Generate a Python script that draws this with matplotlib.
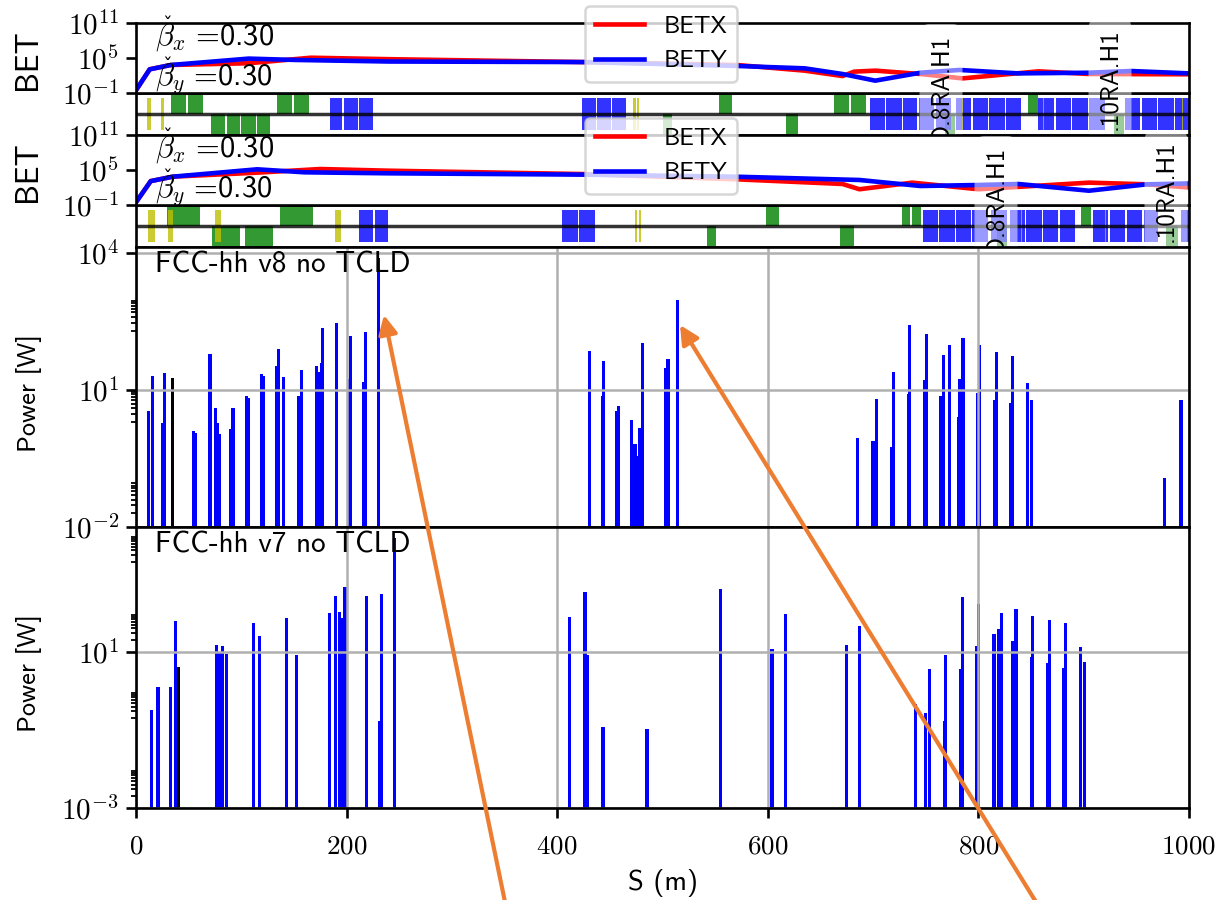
#!/usr/bin/env python3

import matplotlib
matplotlib.use("Agg")
import matplotlib.pyplot as plt
from matplotlib.patches import FancyArrowPatch
from matplotlib.ticker import NullFormatter
from matplotlib.transforms import Bbox

plt.rcParams['font.family'] = ['cmss10', 'DejaVu Sans']
plt.rcParams['mathtext.fontset'] = 'cm'
plt.rcParams['mathtext.default'] = 'rm'
plt.rcParams['axes.unicode_minus'] = False
FS = 18

# optics, top row (v8)
s_betx_v8 = [0, 13, 33, 107, 166, 240, 425, 571, 635, 671, 682, 702, 745, 785, 857, 905, 1000]
betx_v8 = [0.3, 1150, 6300, 12600, 112000, 63000, 20000, 6300, 680, 80, 460, 680, 180, 32, 520, 180, 160]
s_bety_v8 = [0, 13, 33, 107, 152, 240, 425, 571, 635, 671, 702, 745, 782, 838, 905, 945, 1000]
bety_v8 = [0.3, 1150, 6300, 79000, 46000, 25000, 20000, 4300, 1700, 180, 13, 300, 890, 230, 300, 590, 230]

# optics, second row (v7)
s_betx_v7 = [0, 14, 35, 115, 175, 240, 425, 571, 671, 687, 737, 800, 905, 960, 1000]
betx_v7 = [0.3, 1250, 7200, 35000, 148000, 76000, 20000, 2500, 400, 50, 680, 50, 680, 350, 100]
s_bety_v7 = [0, 14, 35, 115, 160, 240, 425, 571, 687, 745, 800, 838, 905, 960, 1000]
bety_v7 = [0.3, 1250, 7200, 132000, 40000, 27000, 16000, 7000, 1950, 180, 270, 400, 28, 350, 500]

# lattice elements, (start, end) in m
quad_up_v8 = [(33, 47.5), (49, 63.4), (134, 148), (150, 164), (553.6, 566), (662.6, 677), (679, 693), (847, 857)]
quad_down_v8 = [(71, 84.5), (86, 99), (100, 113.5), (115, 127), (500.6, 509), (617, 629), (768, 778), (929, 938)]
dip_v8 = [(184, 196), (198, 211), (212, 225), (424, 437), (438, 451), (452, 465),
          (696.6, 711), (712.5, 727), (728, 742), (744, 758), (759.5, 774),
          (778.6, 793), (794.5, 809), (810, 825), (826, 840.6),
          (857, 872), (873.5, 888), (889, 904), (905.5, 920),
          (939, 953.7), (955, 969.6), (971, 985.5), (987, 1001)]
sext_v8 = [(10.6, 14.4), (24, 27), (472, 474.5), (476, 478), (784, 785), (861, 862), (993, 994)]

quad_up_v7 = [(29.7, 60.8), (137, 168), (598.7, 610.8), (727, 735.5), (737, 745.6), (897.7, 906.5)]
quad_down_v7 = [(72, 98.8), (103.8, 130), (542, 551), (668.6, 681.7), (817.6, 827), (978, 989.5)]
dip_v7 = [(212, 225), (226.5, 239.3), (404.8, 420), (421, 436),
          (747, 761.7), (763, 777.5), (778.7, 793), (794, 809),
          (812, 827), (829.6, 844), (845.6, 860), (861.7, 876), (877.6, 892),
          (908.8, 923), (925, 939), (941, 955.6), (957, 971), (992.5, 1008)]
sext_v7 = [(11.3, 18), (30.5, 35.4), (74.8, 80.7), (189, 195), (474, 476), (478, 480), (840, 841), (920, 921)]

# losses
s_v8 = [12, 15.5, 25.3, 27.2, 54.4, 56.7, 70.3, 75.7, 77.6, 78.8, 89.6, 92.1, 105.1, 107, 119, 121.2,
        133, 135.5, 140.5, 154.5, 157, 171.6, 173.8, 176, 177.3, 190.2, 202, 203.9, 216.2, 217.8, 230.4,
        430.5, 442.9, 444.1, 456.5, 458.4, 470.7, 472.6, 474.5, 476.4, 478, 480.8, 502.7, 505.2, 514,
        685.3, 699.9, 703.4, 717.6, 719.2, 733.5, 735, 749, 750.5, 764.5, 766.7, 772.4, 781, 781.9,
        783.7, 785.4, 799, 801.2, 815, 817, 830.6, 832.5, 846.8, 850.6, 976.6, 992.4]
power_v8 = [3.5, 20.5, 1.87, 23.6, 1.25, 1.14, 61, 4.1, 1.87, 1.07, 1.4, 4.1, 7.3, 6.6, 22, 20.5,
            33, 79, 19.5, 7.4, 28, 33.5, 25, 38.5, 231, 288, 17, 150, 15, 186, 7800,
            71, 7.4, 43, 3.5, 4.4, 2.2, 0.67, 0.67, 0.36, 1.5, 105, 30, 48.5, 930,
            0.88, 0.76, 6.3, 0.57, 25, 8.2, 265, 16.6, 168, 7.5, 59, 95, 2.6, 17.7,
            13.3, 135, 8.5, 95, 6, 69, 5.3, 55, 14, 6, 0.117, 6]
s_v8_warm = [34.8]
power_v8_warm = [18.3]

s_v7 = [14.9, 20.9, 33, 37.7, 76, 78, 80, 82, 85.5, 111.4, 117, 143, 152.6, 183.6, 189.9, 193.4,
        196.6, 198.5, 219, 230.8, 232.7, 245.3, 411.8, 426.4, 428.3, 443.5, 485.3, 555.5, 604, 616.7,
        674.6, 687.5, 740.7, 749.6, 753.4, 767.6, 769.2, 782.8, 784.7, 798.3, 800.5, 814.8, 818.9, 822,
        832.2, 835.7, 850.2, 851.8, 865.8, 867.3, 881.3, 882.9, 897.4, 900.9]
power_v7 = [0.326, 1.24, 1.24, 63.5, 15, 10, 10, 14.5, 8.9, 56, 25, 74, 8.5, 100, 280, 105,
            74, 470, 280, 0.17, 300, 8300, 78, 355, 8.2, 0.122, 0.106, 417, 11.7, 95,
            15.4, 47, 0.457, 0.27, 3.7, 0.17, 8.5, 3.66, 250, 14.3, 167, 29, 38, 100,
            18.8, 124, 7.4, 85, 5.1, 66, 4, 56, 13.2, 5.6]
s_v7_warm = [40.2]
power_v7_warm = [4.05]

x_ticks = [0, 200, 400, 600, 800, 1000]
x_labels = ['$0$', '$200$', '$400$', '$600$', '$800$', '$1000$']
bet_ticks = [1e-1, 1e5, 1e11]
bet_labels = ['$10^{-1}$', '$10^{5}$', '$10^{11}$']
p8_ticks = [1e-2, 1e1, 1e4]
p8_labels = ['$10^{-2}$', '$10^{1}$', '$10^{4}$']
p7_ticks = [1e-3, 1e1]
p7_labels = ['$10^{-3}$', '$10^{1}$']
subs = [2, 3, 4, 5, 6, 7, 8, 9]
p8_minor_decades = [1e-2, 1e0, 1e2]
p7_minor_decades = [1e-3, 1e-1, 1e1, 1e3]

W, H = 1219, 900
fig = plt.figure(figsize=(W / 100, H / 100), dpi=100)


def make_axes(top, bottom):
    ax = fig.add_axes([136 / W, 1 - bottom / H, (1189 - 136) / W, (bottom - top) / H])
    ax.set_xlim(0, 1000)
    ax.set_xticks([])
    for sp in ax.spines.values():
        sp.set_linewidth(1.9)
    ax.tick_params(which='major', length=7.2, width=1.9, labelsize=21, pad=5)
    ax.tick_params(which='minor', length=3.6, width=1.3)
    return ax


def beta_text(ax, yfrac, name):
    ax.text(0.018, yfrac, r'$\beta_{\mathit{%s}}\ $=0.30' % name, transform=ax.transAxes, fontsize=22, va='baseline')
    ax.text(31 / 1053, yfrac + 0.20, '\u02c7', transform=ax.transAxes, fontsize=14, ha='center', va='baseline',
            family='DejaVu Sans')


def plot_optics(ax, sx, bx, sy, by):
    ax.semilogy(sx, bx, color='r', lw=3.3, label='BETX')
    ax.semilogy(sy, by, color='b', lw=3.3, label='BETY')
    ax.set_ylim(0.1, 1e11)
    ax.set_xlim(0, 1000)
    ax.set_yticks(bet_ticks, bet_labels)
    ax.minorticks_off()
    ax.set_ylabel('BET', fontsize=22.5)
    ax.yaxis.set_label_coords(-94 / 1053, 0.47)
    beta_text(ax, 0.686, 'x')
    beta_text(ax, 0.10, 'y')
    ax.legend(loc='center', bbox_to_anchor=(0.4985, 0.70), fontsize=17.6, edgecolor='0.8')
    ax.get_legend().get_frame().set_linewidth(1.8)


def bars(ax, items, y0, y1, color):
    for a, b in items:
        ax.bar(a, y1 - y0, width=b - a, bottom=y0, align='edge', color=color, alpha=0.8, lw=0)


def plot_lattice(ax, up, down, dip, sext):
    bars(ax, up, 0, 1.1, 'g')
    bars(ax, down, -1.1, 0, 'g')
    bars(ax, dip, -0.76, 0.76, 'b')
    bars(ax, sext, -0.76, 0.76, 'y')
    ax.plot([0, 1000], [0, 0], color='k', lw=2.5, alpha=0.8)
    ax.set_ylim(-1, 1)
    ax.set_xlim(0, 1000)
    ax.set_yticks([])


def elem_label(ax, name, x_px, top_px, ax_bottom_px, clip_px):
    # rotated label starting at top_px, cut at the lower edge of the lattice row
    x = (x_px - 136) / 1053 * 1000
    y = (ax_bottom_px - top_px) / 70
    t = ax.text(x, y, name, rotation=90, ha='center', va='top', fontsize=FS, zorder=10,
                transform=ax.get_xaxis_transform(),
                bbox=dict(boxstyle='round,pad=0.4', fc='white', ec='none', alpha=0.5))
    t.set_clip_box(Bbox([[0, H - clip_px], [W, H]]))
    t.set_clip_on(True)
    return t


def plot_power(ax, s, p, s_warm, p_warm, ticks, labels, decades, ytop, title):
    ax.bar(s, p, width=2.9, color='b', lw=0)
    ax.bar(s_warm, p_warm, width=2.9, color='k', lw=0)
    ax.set_yscale('log')
    ax.set_ylim(ticks[0], ytop)
    ax.set_xlim(0, 1000)
    ax.set_yticks(ticks, labels)
    ax.set_yticks([m * d for d in decades for m in subs], minor=True)
    ax.yaxis.set_minor_formatter(NullFormatter())
    ax.set_ylabel('Power [W]', fontsize=19)
    ax.yaxis.set_label_coords(-94 / 1053, 0.48)
    ax.set_xticks(x_ticks, x_labels)
    ax.tick_params(axis='x', labelsize=19.5)
    ax.grid(True, which='major', color='#b0b0b0', lw=1.8)
    ax.text(0.018, 0.935, title, transform=ax.transAxes, fontsize=21, va='center')


# lattice first so the optics text and legends lie over it
ax_lat8 = make_axes(93, 135)
plot_lattice(ax_lat8, quad_up_v8, quad_down_v8, dip_v8, sext_v8)
ax_bet8 = make_axes(23, 93)
plot_optics(ax_bet8, s_betx_v8, betx_v8, s_bety_v8, bety_v8)
ax_lat7 = make_axes(205, 247)
plot_lattice(ax_lat7, quad_up_v7, quad_down_v7, dip_v7, sext_v7)
ax_bet7 = make_axes(135, 205)
plot_optics(ax_bet7, s_betx_v7, betx_v7, s_bety_v7, bety_v7)

elem_label(ax_bet8, 'D.8RA.H1', 941, 34, 93, 135)
elem_label(ax_bet8, '.10RA.H1', 1110, 28, 93, 135)
elem_label(ax_bet7, 'D.8RA.H1', 996, 146, 205, 247)
elem_label(ax_bet7, '.10RA.H1', 1166, 140, 205, 247)

ax_p8 = make_axes(247, 527)
plot_power(ax_p8, s_v8, power_v8, s_v8_warm, power_v8_warm, p8_ticks, p8_labels, p8_minor_decades, 1.35e4,
           'FCC-hh v8 no TCLD')
ax_p8.tick_params(axis='x', length=0, labelbottom=False)
ax_p7 = make_axes(527, 808)
plot_power(ax_p7, s_v7, power_v7, s_v7_warm, power_v7_warm, p7_ticks, p7_labels, p7_minor_decades, 1.6e4,
           'FCC-hh v7 no TCLD')
ax_p7.tick_params(axis='x', pad=11)
ax_p7.set_xlabel('S (m)', fontsize=20.5, labelpad=8)

# hand drawn arrows on top of the plot
for tail, tip in [((505, 902), (384, 315)), ((1036, 902), (680, 325))]:
    fig.add_artist(FancyArrowPatch((tail[0] / W, 1 - tail[1] / H), (tip[0] / W, 1 - tip[1] / H),
                                   transform=fig.transFigure, arrowstyle='-|>,head_length=0.8,head_width=0.4',
                                   mutation_scale=14, color='#ED7D31', lw=3, shrinkA=0, shrinkB=0, zorder=20))

fig.savefig('out.png', dpi=100)
